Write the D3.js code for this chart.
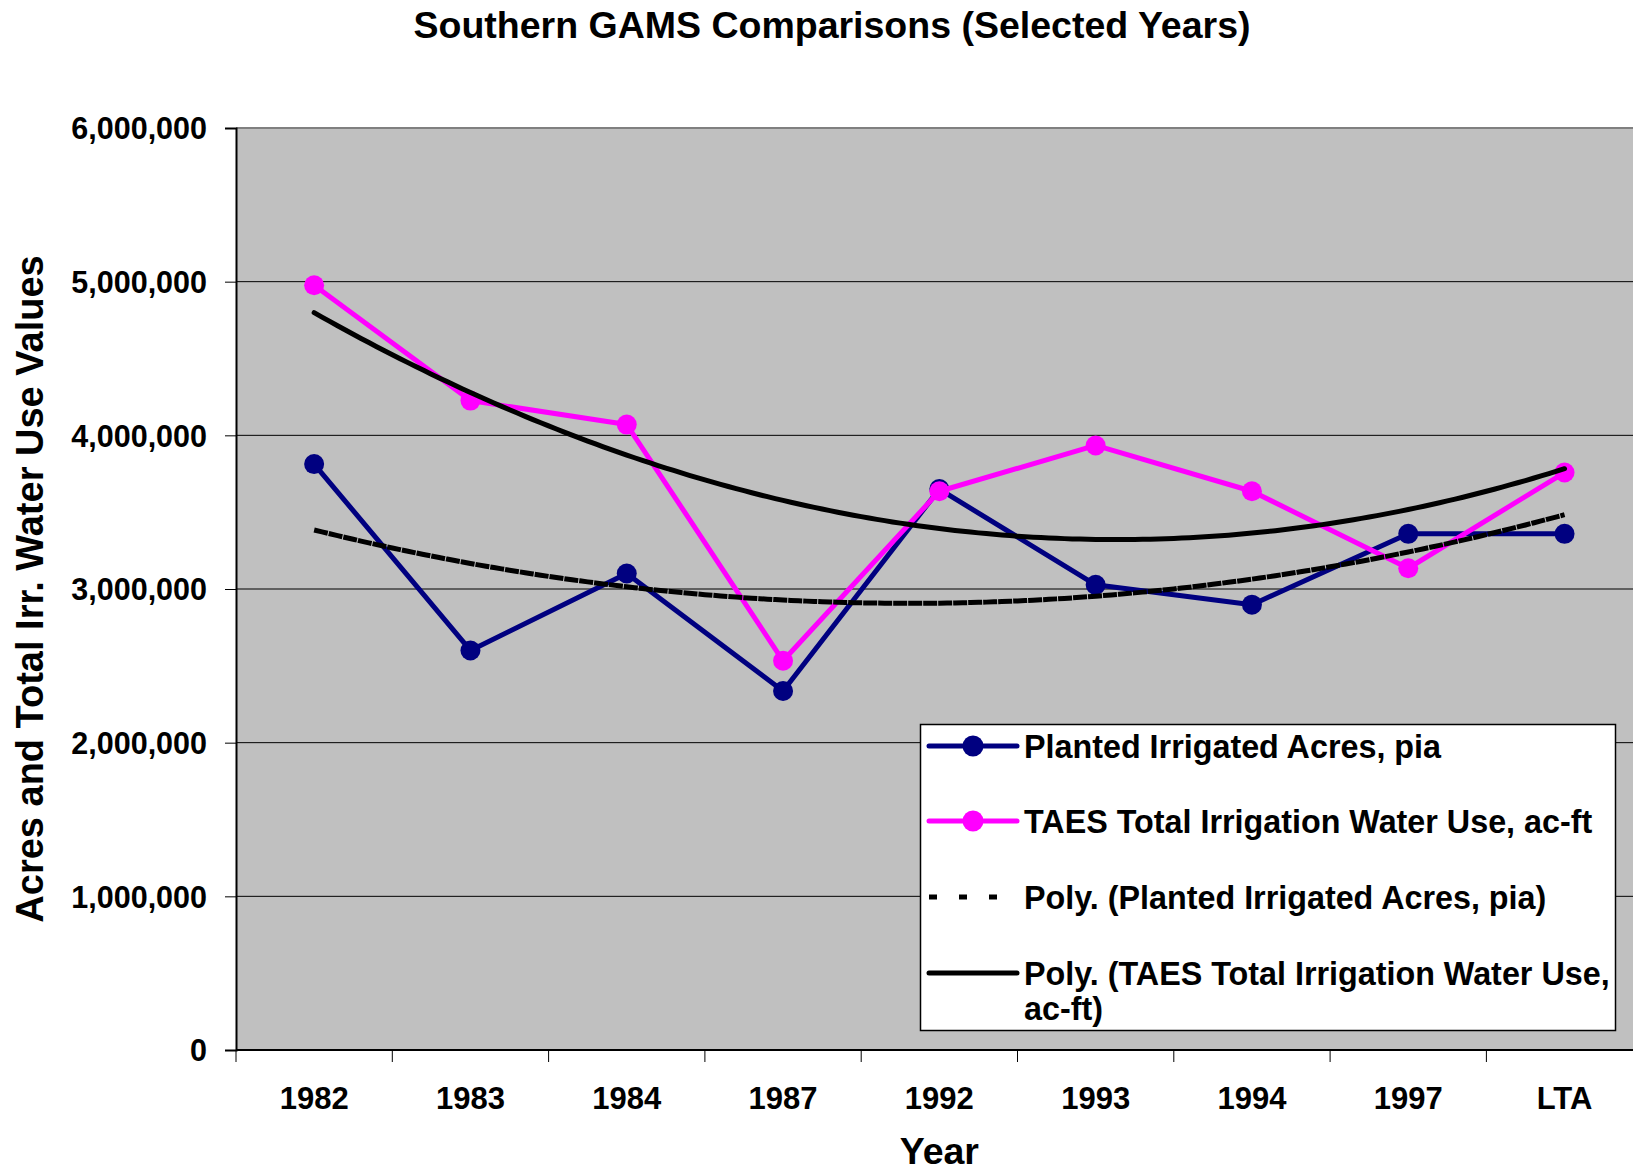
<!DOCTYPE html>
<html>
<head>
<meta charset="utf-8">
<title>Southern GAMS Comparisons</title>
<script src="https://d3js.org/d3.v7.min.js"></script>
<style>
  body { margin: 0; background: #ffffff; }
  svg text { font-family: "Liberation Sans", Arial, sans-serif; font-weight: bold; fill: #000; }
</style>
</head>
<body>
<div id="viz"></div>
<script>
// data
var years = ["1982", "1983", "1984", "1987", "1992", "1993", "1994", "1997", "LTA"];
var plantedAcres = [3813000, 2600000, 3101000, 2336000, 3650000, 3027000, 2898000, 3359000, 3359000];
var taesWaterUse = [4977000, 4226000, 4070000, 2533000, 3636000, 3934000, 3636000, 3135000, 3758000];
var yTicks = [0, 1000000, 2000000, 3000000, 4000000, 5000000, 6000000];
var legendLabels = [
  "Planted Irrigated Acres, pia",
  "TAES Total Irrigation Water Use, ac-ft",
  "Poly. (Planted Irrigated Acres, pia)",
  "Poly. (TAES Total Irrigation Water Use,"
];

var svgWidth = 1633, svgHeight = 1173;
var plotLeft = 236, plotTop = 128, plotBottom = 1050;
var bandWidth = 156.3;
var plotRight = plotLeft + bandWidth * years.length;

var navy = "#000080", magenta = "#ff00ff";

// least squares quadratic fit, x = 1..n (same as excel poly trendline, order 2)
function polyFit2(ys) {
  var n = ys.length, s = [0, 0, 0, 0, 0], r = [0, 0, 0];
  ys.forEach(function (y, i) {
    var x = i + 1;
    for (var k = 0; k < 5; k++) s[k] += Math.pow(x, k);
    for (var k = 0; k < 3; k++) r[k] += y * Math.pow(x, k);
  });
  var m = [
    [s[0], s[1], s[2], r[0]],
    [s[1], s[2], s[3], r[1]],
    [s[2], s[3], s[4], r[2]]
  ];
  for (var i = 0; i < 3; i++) {
    for (var j = i + 1; j < 3; j++) {
      var f = m[j][i] / m[i][i];
      for (var k = i; k < 4; k++) m[j][k] -= f * m[i][k];
    }
  }
  var c = [0, 0, 0];
  for (var i = 2; i >= 0; i--) {
    var v = m[i][3];
    for (var k = i + 1; k < 3; k++) v -= m[i][k] * c[k];
    c[i] = v / m[i][i];
  }
  return function (x) { return c[0] + c[1] * x + c[2] * x * x; };
}

var svg = d3.select("#viz").append("svg")
  .attr("width", svgWidth)
  .attr("height", svgHeight);

var xScale = d3.scaleBand().domain(years).range([plotLeft, plotRight]).padding(0);
var yScale = d3.scaleLinear().domain([0, 6000000]).range([plotBottom, plotTop]);
// continuous position for the trend curves (category index 1..n)
var xIndex = d3.scaleLinear()
  .domain([1, years.length])
  .range([xScale(years[0]) + xScale.bandwidth() / 2, xScale(years[years.length - 1]) + xScale.bandwidth() / 2]);

// plot background
svg.append("rect")
  .attr("x", plotLeft).attr("y", plotTop)
  .attr("width", plotRight - plotLeft).attr("height", plotBottom - plotTop)
  .attr("fill", "#c0c0c0");

// gridlines
svg.selectAll("line.grid")
  .data(yTicks.filter(function (d) { return d > 0; }))
  .enter().append("line")
  .attr("class", "grid")
  .attr("x1", plotLeft).attr("x2", plotRight)
  .attr("y1", function (d) { return yScale(d); })
  .attr("y2", function (d) { return yScale(d); })
  .attr("stroke", function (d) { return d == 6000000 ? "#808080" : "#000"; })
  .attr("stroke-width", function (d) { return d == 6000000 ? 2 : 1; });

// y axis
var yAxis = d3.axisLeft(yScale).tickValues(yTicks).tickFormat(d3.format(",")).tickSize(11).tickPadding(18);
var gy = svg.append("g")
  .attr("transform", "translate(" + plotLeft + ",0)")
  .call(yAxis);
gy.select(".domain").attr("stroke", "#000").attr("stroke-width", 2);
gy.selectAll(".tick line").attr("stroke", "#000");
gy.selectAll(".tick text")
  .style("font-size", "30.5px")
  .attr("dy", "0.36em");

// x axis line + ticks at category boundaries
svg.append("line")
  .attr("x1", plotLeft).attr("x2", plotRight)
  .attr("y1", plotBottom).attr("y2", plotBottom)
  .attr("stroke", "#000").attr("stroke-width", 2);

svg.selectAll("line.xtick")
  .data(years)
  .enter().append("line")
  .attr("class", "xtick")
  .attr("x1", function (d) { return xScale(d); })
  .attr("x2", function (d) { return xScale(d); })
  .attr("y1", plotBottom).attr("y2", plotBottom + 12)
  .attr("stroke", "#000").attr("stroke-width", 1);

svg.selectAll("text.xlabel")
  .data(years)
  .enter().append("text")
  .attr("class", "xlabel")
  .attr("x", function (d) { return xScale(d) + xScale.bandwidth() / 2; })
  .attr("y", 1109)
  .attr("text-anchor", "middle")
  .style("font-size", "31px")
  .text(function (d) { return d; });

// titles
svg.append("text")
  .attr("x", 832).attr("y", 38)
  .attr("text-anchor", "middle")
  .style("font-size", "37.5px")
  .text("Southern GAMS Comparisons (Selected Years)");

svg.append("text")
  .attr("x", (plotLeft + plotRight) / 2).attr("y", 1164)
  .attr("text-anchor", "middle")
  .style("font-size", "37.5px")
  .text("Year");

svg.append("text")
  .attr("transform", "rotate(-90)")
  .attr("x", -(plotTop + plotBottom) / 2).attr("y", 43)
  .attr("text-anchor", "middle")
  .style("font-size", "38px")
  .text("Acres and Total Irr. Water Use Values");

// data series
var line = d3.line()
  .x(function (d, i) { return xScale(years[i]) + xScale.bandwidth() / 2; })
  .y(function (d) { return yScale(d); });

var drawSeries = function (values, color) {
  svg.append("path")
    .datum(values)
    .attr("d", line)
    .attr("fill", "none")
    .attr("stroke", color)
    .attr("stroke-width", 5)
    .attr("stroke-linejoin", "round");

  svg.append("g").selectAll("circle")
    .data(values)
    .enter().append("circle")
    .attr("cx", function (d, i) { return xScale(years[i]) + xScale.bandwidth() / 2; })
    .attr("cy", function (d) { return yScale(d); })
    .attr("r", 10)
    .attr("fill", color);
};

drawSeries(plantedAcres, navy);
drawSeries(taesWaterUse, magenta);

// polynomial trendlines
var steps = d3.range(1, years.length + 0.001, 0.05);
var trendLine = function (fit) {
  return d3.line()
    .x(function (t) { return xIndex(t); })
    .y(function (t) { return yScale(fit(t)); })(steps);
};

svg.append("path")
  .attr("d", trendLine(polyFit2(plantedAcres)))
  .attr("fill", "none")
  .attr("stroke", "#000")
  .attr("stroke-width", 5)
  .attr("stroke-dasharray", "14,1");

svg.append("path")
  .attr("d", trendLine(polyFit2(taesWaterUse)))
  .attr("fill", "none")
  .attr("stroke", "#000")
  .attr("stroke-width", 5)
  .attr("stroke-linecap", "round");

// legend
var legend = svg.append("g");
legend.append("rect")
  .attr("x", 920.5).attr("y", 724.5)
  .attr("width", 695).attr("height", 306)
  .attr("fill", "#fff")
  .attr("stroke", "#000")
  .attr("stroke-width", 1.5);

var legendRows = [746, 821, 897, 973];
var symbols = [
  { color: navy, dash: null, marker: true },
  { color: magenta, dash: null, marker: true },
  { color: "#000", dash: "8,22", marker: false },
  { color: "#000", dash: null, marker: false }
];

legendRows.forEach(function (ly, i) {
  var s = symbols[i];
  legend.append("line")
    .attr("x1", 929).attr("x2", 1017)
    .attr("y1", ly).attr("y2", ly)
    .attr("stroke", s.color)
    .attr("stroke-width", 5)
    .attr("stroke-linecap", s.dash ? "butt" : "round")
    .attr("stroke-dasharray", s.dash);
  if (s.marker) {
    legend.append("circle")
      .attr("cx", 973).attr("cy", ly).attr("r", 10.5)
      .attr("fill", s.color);
  }
  legend.append("text")
    .attr("x", 1024).attr("y", ly + 12)
    .style("font-size", "32.3px")
    .text(legendLabels[i]);
});

legend.append("text")
  .attr("x", 1024).attr("y", 1020)
  .style("font-size", "32.3px")
  .text("ac-ft)");
</script>
</body>
</html>
